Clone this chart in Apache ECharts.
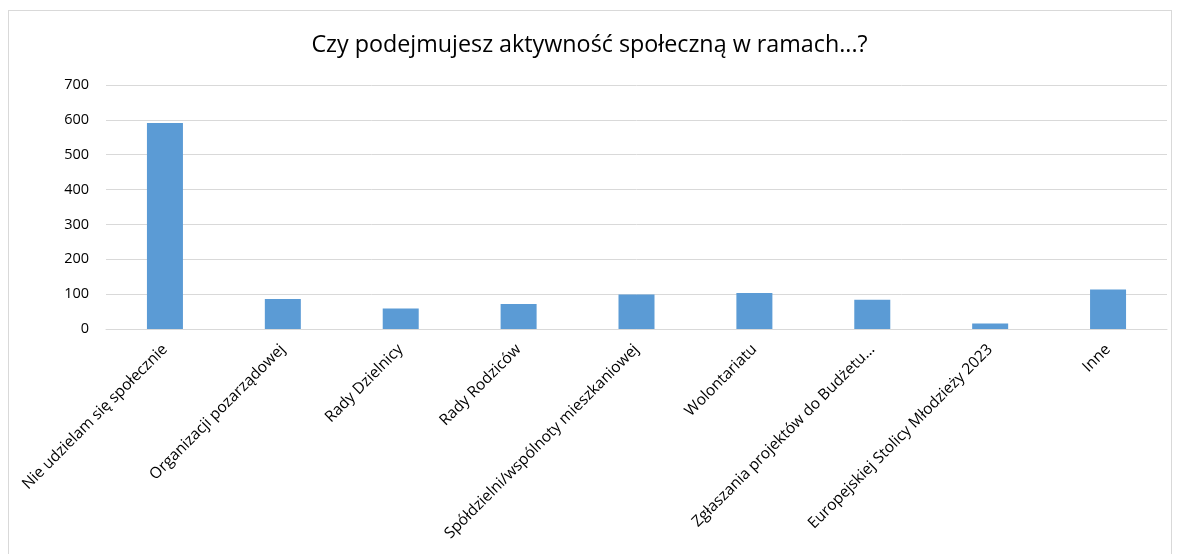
<!DOCTYPE html>
<html>
<head>
<meta charset="utf-8">
<script src="https://cdn.jsdelivr.net/npm/echarts@6/dist/echarts.min.js"></script>
<style>
  html, body { margin: 0; padding: 0; background: #fff; }
  #frame { position: absolute; left: 8px; top: 10px; width: 1162px; height: 560px; border: 1px solid #d9d9d9; }
  #chart { position: absolute; left: 0; top: 0; width: 1179px; height: 554px; }
</style>
</head>
<body>
<div id="frame"></div>
<div id="chart"></div>
<script>
const categories = [
  'Nie udzielam się społecznie',
  'Organizacji pozarządowej',
  'Rady Dzielnicy',
  'Rady Rodziców',
  'Spółdzielni/wspólnoty mieszkaniowej',
  'Wolontariatu',
  'Zgłaszania projektów do Budżetu...',
  'Europejskiej Stolicy Młodzieży 2023',
  'Inne'
];
const values = [591, 86, 59, 72, 99, 103, 84, 16, 113];
const titleText = 'Czy podejmujesz aktywność społeczną w ramach...?';

var chartDom = document.getElementById('chart');
var myChart = echarts.init(chartDom);
var option = {
  animation: false,
  title: {
    text: titleText,
    left: 'center',
    top: 29,
    textStyle: {
      fontFamily: 'Open Sans',
      fontSize: 23.3,
      fontWeight: 'normal',
      color: '#000'
    }
  },
  grid: {
    left: 106,
    right: 12,
    top: 85,
    bottom: 225,
    containLabel: false
  },
  xAxis: {
    type: 'category',
    data: categories,
    axisLine: { lineStyle: { color: '#d9d9d9', width: 1 } },
    axisTick: { show: false },
    axisLabel: {
      rotate: 45,
      interval: 0,
      margin: 18,
      fontFamily: 'Open Sans',
      fontSize: 15.5,
      color: '#000'
    }
  },
  yAxis: {
    type: 'value',
    min: 0,
    max: 700,
    interval: 100,
    axisLine: { show: false },
    axisTick: { show: false },
    splitLine: { lineStyle: { color: '#d9d9d9', width: 1 } },
    axisLabel: {
      margin: 17,
      fontFamily: 'Open Sans',
      fontSize: 14.5,
      color: '#000'
    }
  },
  series: [
    {
      type: 'bar',
      data: values,
      barWidth: 36,
      itemStyle: { color: '#5b9bd5' }
    }
  ]
};
option && myChart.setOption(option);
</script>
</body>
</html>
